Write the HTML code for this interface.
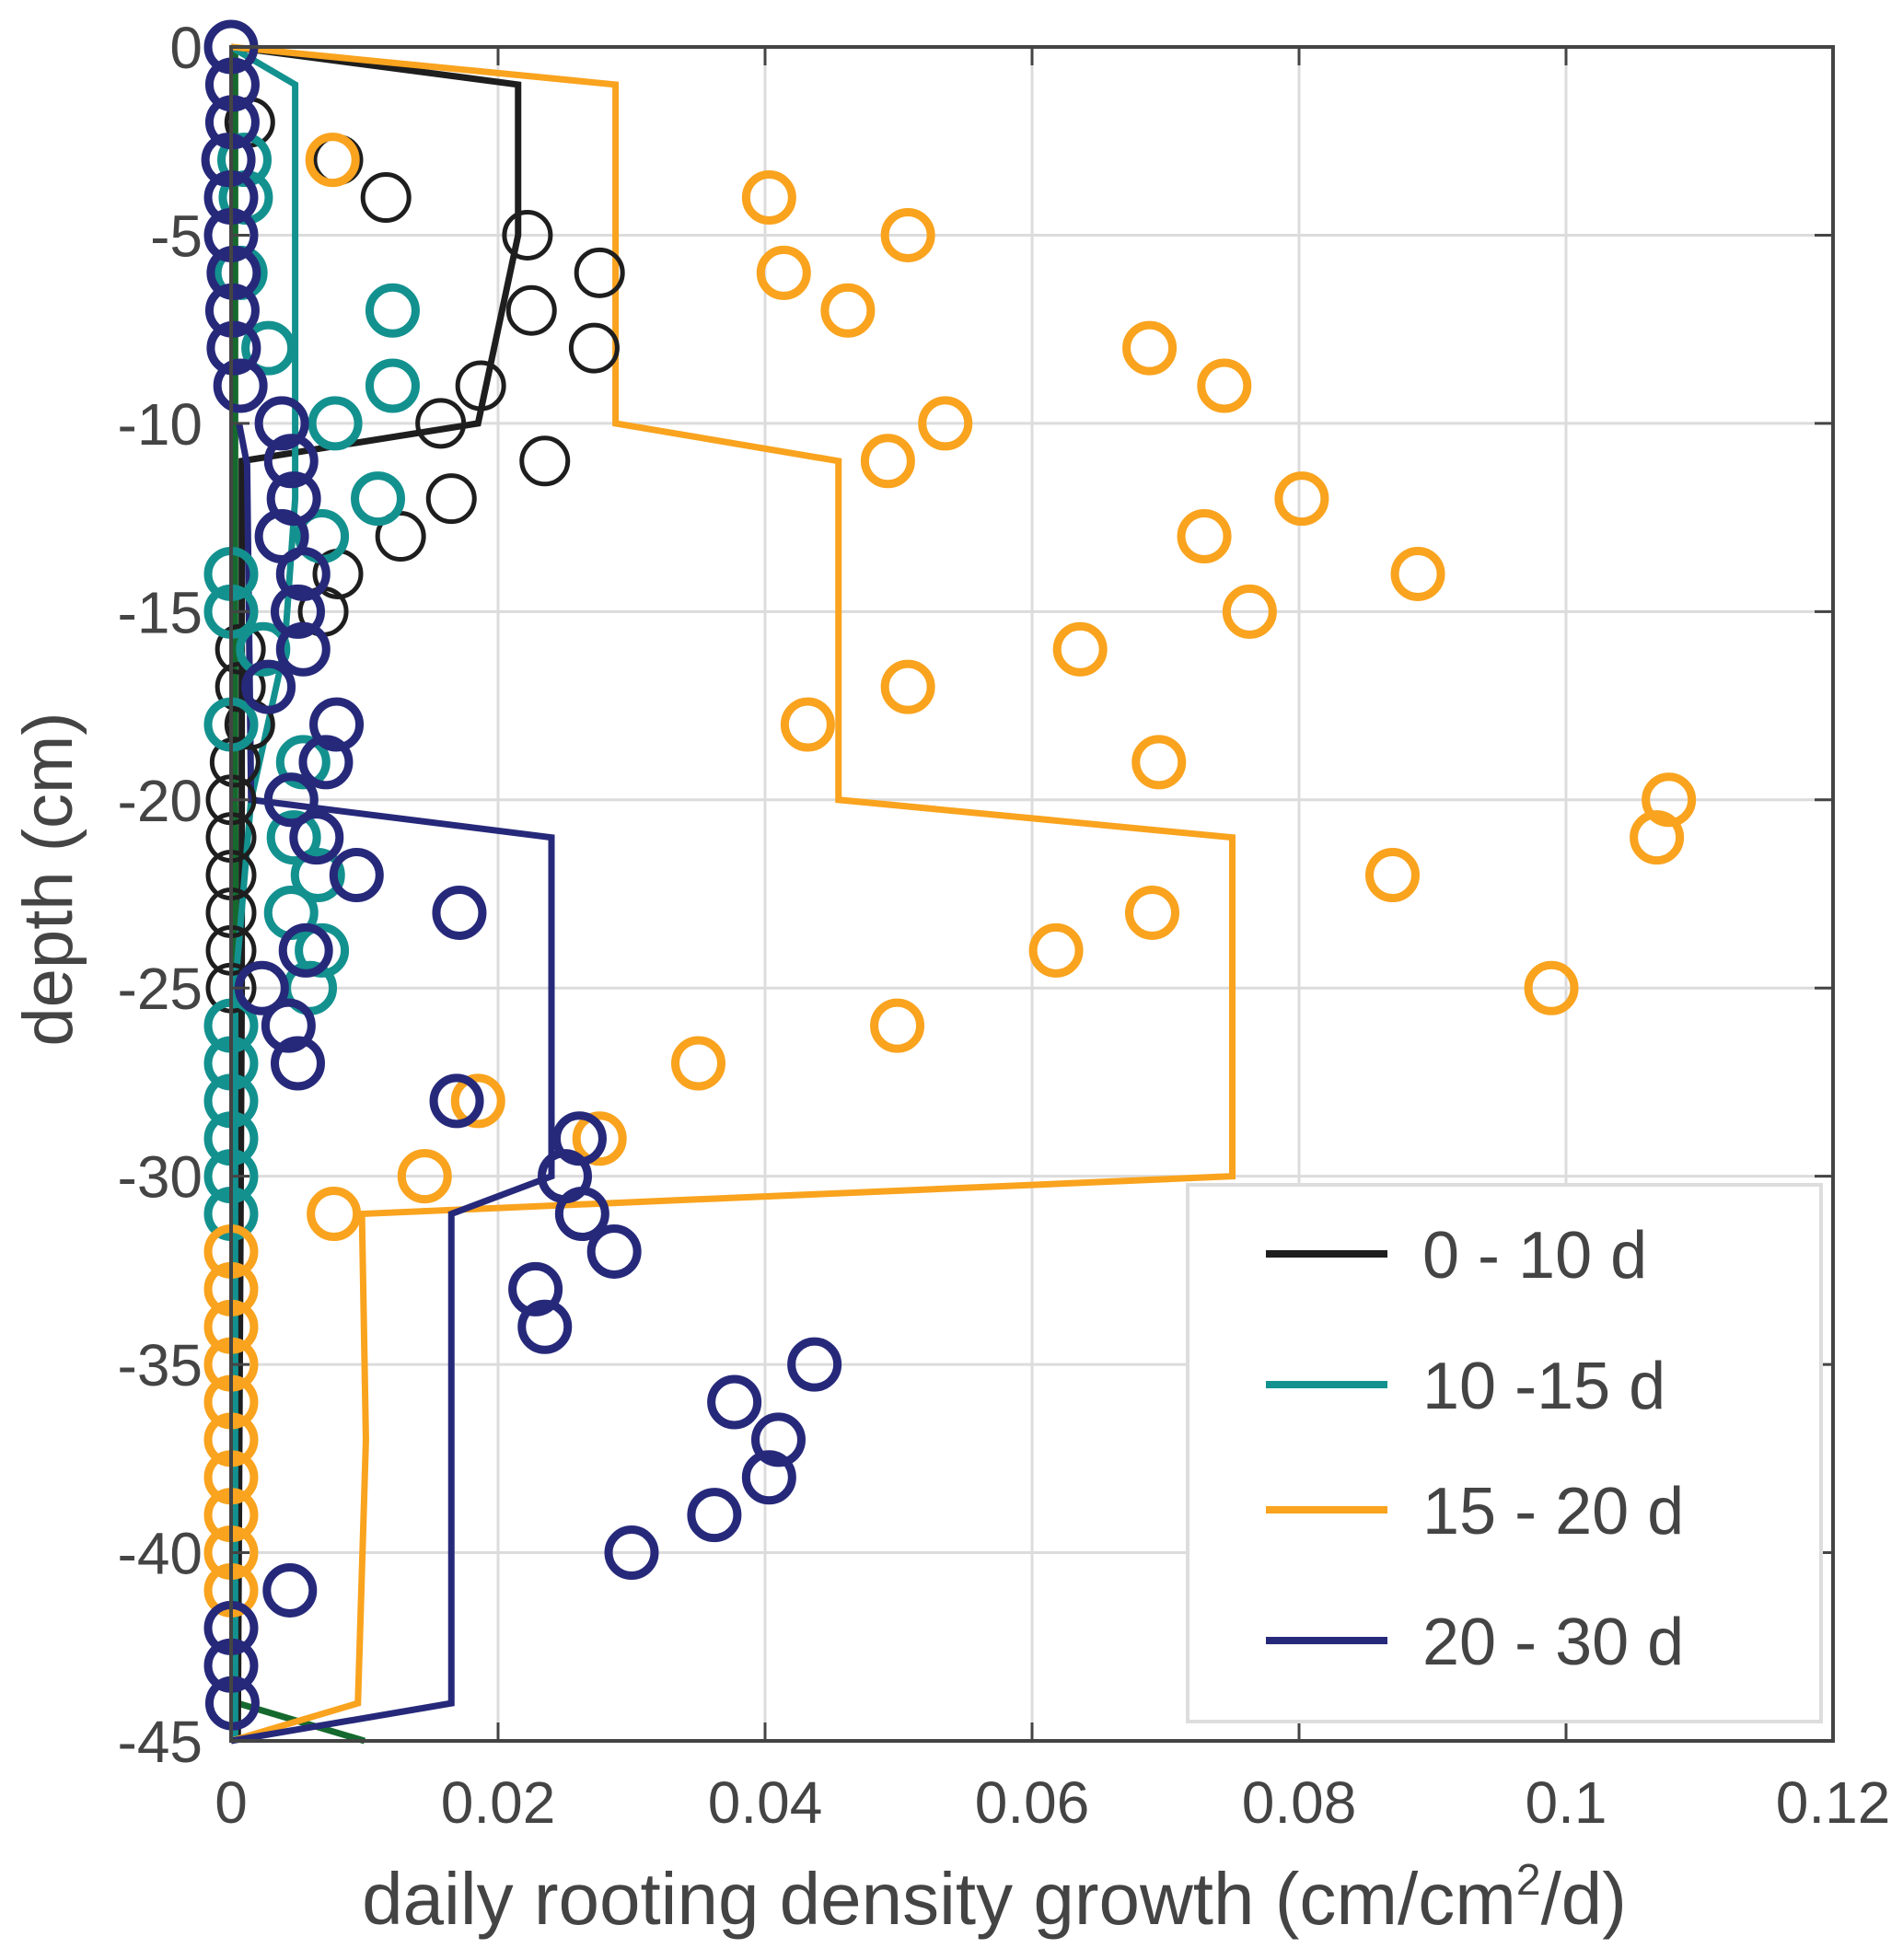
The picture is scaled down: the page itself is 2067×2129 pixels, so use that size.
<!DOCTYPE html>
<html><head><meta charset="utf-8"><style>
html,body{margin:0;padding:0;background:#fff}
svg{display:block}
text{font-family:"Liberation Sans",sans-serif;fill:#444}
</style></head><body>
<svg id="chart" width="2067" height="2129" viewBox="0 0 2067 2129" xmlns="http://www.w3.org/2000/svg">
<g id="grid"></g>
<g id="series"></g>
<g id="axes"></g>
<g id="legend"></g>
<text x="1080" y="2090" font-size="80" text-anchor="middle">daily rooting density growth (cm/cm<tspan font-size="48" dy="-32">2</tspan><tspan dy="32">/d)</tspan></text>
<text transform="translate(78,955) rotate(-90)" font-size="76" text-anchor="middle">depth (cm)</text>
</svg>
<script>
const xTicks=[0,0.02,0.04,0.06,0.08,0.1,0.12];
const xTickLabels=["0","0.02","0.04","0.06","0.08","0.1","0.12"];
const yTicks=[0,-5,-10,-15,-20,-25,-30,-35,-40,-45];
const yTickLabels=["0","-5","-10","-15","-20","-25","-30","-35","-40","-45"];

const blackDepth=[-2,-3,-4,-5,-6,-7,-8,-9,-10,-11,-12,-13,-14,-15,-16,-17,-18,-19,-20,-21,-22,-23,-24,-25];
const blackVals=[0.0014,0.008,0.0116,0.0222,0.0276,0.0225,0.0272,0.0187,0.0157,0.0235,0.0165,0.0127,0.008,0.0069,0.0007,0.0007,0.0014,0.0003,0,0,0,0,0,0];
const blackLineX=[0,0.0215,0.0215,0.0185,0.0008,0.0008,0.0005];
const blackLineY=[0,-1,-5,-10,-11,-25,-45];

const tealDepth=[-3,-4,-6,-7,-8,-9,-10,-12,-13,-14,-15,-16,-18,-19,-20,-21,-22,-23,-24,-25,-26,-27,-28,-29,-30,-31];
const tealVals=[0.001,0.0011,0.0007,0.0121,0.0028,0.0121,0.0078,0.011,0.0068,0,0,0.0024,0,0.0054,0.0045,0.0047,0.0065,0.0045,0.0068,0.0059,0,0,0,0,0,0];
const tealLineX=[0,0.0048,0.0048,0.004,0.0015,0.0003,0.0003];
const tealLineY=[0,-1,-12,-16,-20,-25,-45];

const greenLineX=[0.0003,0.0003,0.0005,0.01];
const greenLineY=[0,-20,-44,-45];

const orangeDepth=[-3,-4,-5,-6,-7,-8,-9,-10,-11,-12,-13,-14,-15,-16,-17,-18,-19,-20,-21,-22,-23,-24,-25,-26,-27,-28,-29,-30,-31,-32,-33,-34,-35,-36,-37,-38,-39,-40,-41];
const orangeVals=[0.0076,0.0403,0.0507,0.0414,0.0462,0.0688,0.0744,0.0535,0.0492,0.0802,0.0729,0.0889,0.0763,0.0636,0.0507,0.0432,0.0695,0.1077,0.1068,0.087,0.069,0.0618,0.0989,0.0499,0.035,0.0185,0.0276,0.0145,0.0077,0,0,0,0,0,0,0,0,0,0];
const orangeLineX=[0,0.0288,0.0288,0.0455,0.0455,0.075,0.075,0.0098,0.0101,0.0095,0];
const orangeLineY=[0,-1,-10,-11,-20,-21,-30,-31,-37,-44,-45];

const navyDepth=[0,-1,-2,-3,-4,-5,-6,-7,-8,-9,-10,-11,-12,-13,-14,-15,-16,-17,-18,-19,-20,-21,-22,-23,-24,-25,-26,-27,-28,-29,-30,-31,-32,-33,-34,-35,-36,-37,-38,-39,-40,-41,-42,-43,-44];
const navyVals=[0,0.0001,0.0001,-0.0002,0,0,0.0002,0.0001,0.0002,0.0007,0.0038,0.0045,0.0047,0.0038,0.0054,0.005,0.0054,0.0028,0.0079,0.0071,0.0045,0.0064,0.0094,0.0171,0.0056,0.0023,0.0043,0.005,0.0169,0.0261,0.025,0.0263,0.0287,0.0228,0.0235,0.0437,0.0377,0.041,0.0403,0.0362,0.03,0.0044,0,0,0.0001];
const navyLineX=[0.0006,0.0012,0.0015,0.024,0.024,0.0165,0.0165,0];
const navyLineY=[-10,-11.1,-20,-21,-30,-31,-44,-45];

const legendLabels=["0 - 10 d","10 -15 d","15 - 20 d","20 - 30 d"];
const legendColors=["#1e1e1e","#13918f","#f9a31e","#26297a"];

const L=251,T=51,R=1991,B=1891;
const sx=v=>L+(v/0.12)*(R-L);
const sy=v=>T+(-v/45)*(B-T);
const NS="http://www.w3.org/2000/svg";
function mk(tag,parent,attrs){const e=document.createElementNS(NS,tag);for(const k in attrs)e.setAttribute(k,attrs[k]);parent.appendChild(e);return e;}
const grid=document.getElementById('grid'),axes=document.getElementById('axes'),ser=document.getElementById('series'),leg=document.getElementById('legend');

xTicks.forEach((t,i)=>{
  const g=mk('line',grid,{x1:sx(t),x2:sx(t),y1:T,y2:B,stroke:'#dcdcdc','stroke-width':3});
  
  
  const tk=mk('line',axes,{x1:sx(t),x2:sx(t),y1:B,y2:B-20,stroke:'#444','stroke-width':3});
  
  
  const tk2=mk('line',axes,{x1:sx(t),x2:sx(t),y1:T,y2:T+20,stroke:'#444','stroke-width':3});
  
  
  const tx=mk('text',axes,{x:sx(t),y:1980,'font-size':64,'text-anchor':'middle'});
  tx.textContent=xTickLabels[i];
  
  
});
yTicks.forEach((t,i)=>{
  const g=mk('line',grid,{x1:L,x2:R,y1:sy(t),y2:sy(t),stroke:'#dcdcdc','stroke-width':3});
  
  
  const tk=mk('line',axes,{x1:L,x2:L+20,y1:sy(t),y2:sy(t),stroke:'#444','stroke-width':3});
  
  
  const tk2=mk('line',axes,{x1:R,x2:R-20,y1:sy(t),y2:sy(t),stroke:'#444','stroke-width':3});
  
  
  const tx=mk('text',axes,{x:220,y:sy(t)+23,'font-size':64,'text-anchor':'end'});
  tx.textContent=yTickLabels[i];
  
  
});
const frame=mk('rect',axes,{x:L,y:T,width:R-L,height:B-T,fill:'none',stroke:'#444','stroke-width':4});



function line(xs,ys,color,name){
  const p=mk('polyline',ser,{points:xs.map((x,i)=>sx(x)+','+sy(ys[i])).join(' '),fill:'none',stroke:color,'stroke-width':7,'stroke-linejoin':'miter'});
  
  
}
function pts(ds,vs,color,sw,name){
  ds.forEach((d,i)=>{
    const c=mk('circle',ser,{cx:sx(vs[i]),cy:sy(d),r:25,fill:'none',stroke:color,'stroke-width':sw});
    
    
  });
}
line(greenLineX,greenLineY,'#16692e','green-line');
line(blackLineX,blackLineY,legendColors[0],'line-0-10d');
line(tealLineX,tealLineY,legendColors[1],'line-10-15d');
line(orangeLineX,orangeLineY,legendColors[2],'line-15-20d');
line(navyLineX,navyLineY,legendColors[3],'line-20-30d');
pts(blackDepth,blackVals,legendColors[0],5,'point-0-10d');
pts(tealDepth,tealVals,legendColors[1],9,'point-10-15d');
pts(orangeDepth,orangeVals,legendColors[2],9,'point-15-20d');
pts(navyDepth,navyVals,legendColors[3],9,'point-20-30d');

const lb=mk('rect',leg,{x:1290,y:1287,width:688,height:583,fill:'#fff',stroke:'#ddd','stroke-width':4});


const ly=[1362,1504,1640,1782];
legendLabels.forEach((s,i)=>{
  const l=mk('line',leg,{x1:1375,x2:1507,y1:ly[i],y2:ly[i],stroke:legendColors[i],'stroke-width':8});
  
  
  const t=mk('text',leg,{x:1545,y:ly[i]+26,'font-size':72});
  t.textContent=s;
  
  
});
</script>
</body></html>
